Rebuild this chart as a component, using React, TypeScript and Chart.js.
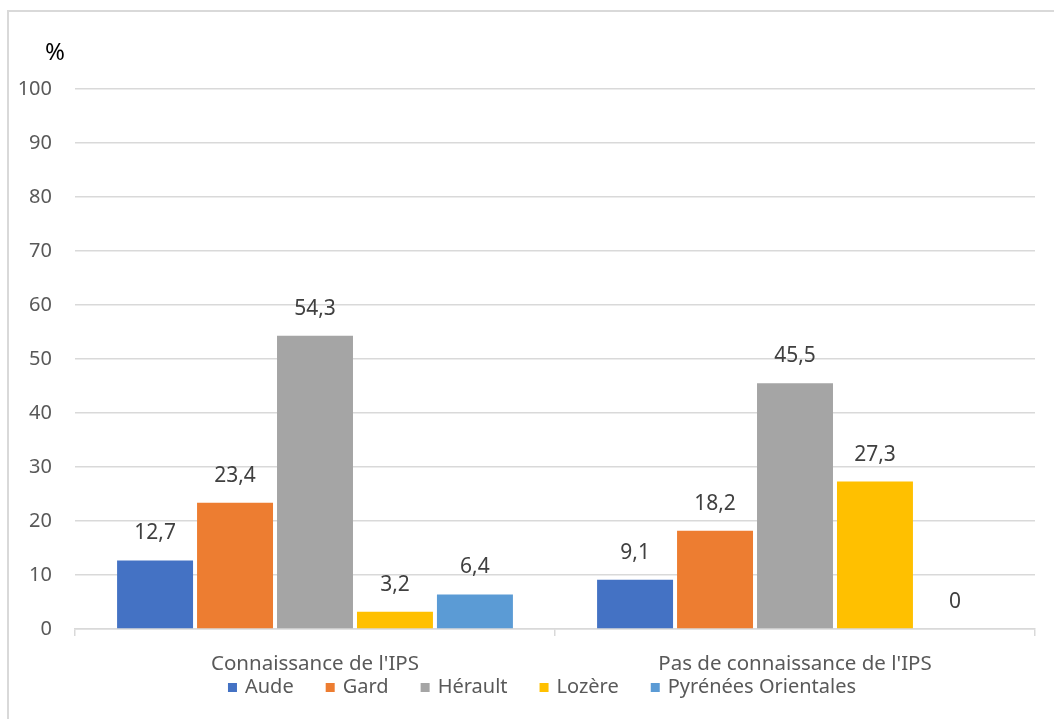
import { useEffect, useRef } from "react";
import { Chart, registerables } from "chart.js";

Chart.register(...registerables);

const categories = ["Connaissance de l'IPS", "Pas de connaissance de l'IPS"];
const seriesNames = ["Aude", "Gard", "Hérault", "Lozère", "Pyrénées Orientales"];
const aude = [12.7, 9.1];
const gard = [23.4, 18.2];
const herault = [54.3, 45.5];
const lozere = [3.2, 27.3];
const pyrenees = [6.4, 0];
const seriesColors = ["#4472C4", "#ED7D31", "#A5A5A5", "#FFC000", "#5B9BD5"];
const yMin = 0;
const yMax = 100;
const yStep = 10;
const unitLabel = "%";

const FONT = '"Noto Sans", "DejaVu Sans", sans-serif';

const framePlugin = {
  id: "frame",
  beforeDraw(chart: any) {
    const { ctx, chartArea } = chart;
    ctx.save();
    ctx.strokeStyle = "#d9d9d9";
    ctx.lineWidth = 2;
    ctx.beginPath();
    ctx.moveTo(8, chart.height);
    ctx.lineTo(8, 11);
    ctx.lineTo(chart.width, 11);
    ctx.stroke();
    ctx.fillStyle = "#000000";
    ctx.font = `24px ${FONT}`;
    ctx.textAlign = "center";
    ctx.textBaseline = "middle";
    ctx.fillText(unitLabel, chartArea.left - 20, chartArea.top - 36);
    ctx.restore();
  },
};

const valueLabelPlugin = {
  id: "valueLabels",
  afterDatasetsDraw(chart: any) {
    const { ctx } = chart;
    ctx.save();
    ctx.font = `21px ${FONT}`;
    ctx.fillStyle = "#404040";
    ctx.textAlign = "center";
    ctx.textBaseline = "middle";
    chart.data.datasets.forEach((ds: any, i: number) => {
      const meta = chart.getDatasetMeta(i);
      meta.data.forEach((el: any, j: number) => {
        const v = ds.data[j] as number;
        ctx.fillText(String(v).replace(".", ","), el.x, el.y - 27);
      });
    });
    ctx.restore();
  },
};

const legendPlugin = {
  id: "bottomLegend",
  afterDraw(chart: any) {
    const { ctx } = chart;
    const box = 9;
    const textGap = 8;
    const itemGap = 32;
    ctx.save();
    ctx.font = `20px ${FONT}`;
    const items = chart.data.datasets.map((ds: any) => ({
      label: ds.label as string,
      color: ds.backgroundColor as string,
      w: ctx.measureText(ds.label).width,
    }));
    const total =
      items.reduce((s: number, it: any) => s + box + textGap + it.w, 0) +
      itemGap * (items.length - 1);
    let x = 542 - total / 2;
    const y = 687.5;
    ctx.textBaseline = "middle";
    ctx.textAlign = "left";
    items.forEach((it: any) => {
      ctx.fillStyle = it.color;
      ctx.fillRect(x, y - box / 2, box, box);
      ctx.fillStyle = "#595959";
      ctx.fillText(it.label, x + box + textGap, y);
      x += box + textGap + it.w + itemGap;
    });
    ctx.restore();
  },
};

export default function App() {
  const canvasRef = useRef<HTMLCanvasElement | null>(null);

  useEffect(() => {
    document.body.style.margin = "0";
    document.body.style.overflow = "hidden";
    const canvas = canvasRef.current;
    if (!canvas) return;
    const seriesData = [aude, gard, herault, lozere, pyrenees];
    const chart = new Chart(canvas, {
      type: "bar",
      data: {
        labels: categories,
        datasets: seriesNames.map((name, i) => ({
          label: name,
          data: seriesData[i],
          backgroundColor: seriesColors[i],
          borderWidth: 0,
          barPercentage: 0.95,
          categoryPercentage: 0.833,
        })),
      },
      options: {
        responsive: false,
        animation: false,
        events: [],
        layout: { padding: { top: 89, left: 0, right: 19, bottom: 40 } },
        plugins: {
          legend: { display: false },
          title: { display: false },
          tooltip: { enabled: false },
        },
        scales: {
          x: {
            grid: {
              offset: true,
              drawOnChartArea: false,
              drawTicks: true,
              tickLength: 7,
              color: "#d9d9d9",
              lineWidth: 1.5,
            },
            border: { display: true, color: "#d9d9d9", width: 1.5 },
            ticks: {
              color: "#595959",
              font: { family: FONT, size: 20.5 },
              padding: 16,
            },
            afterFit: (scale: any) => {
              scale.height = 50;
            },
          },
          y: {
            min: yMin,
            max: yMax,
            ticks: {
              stepSize: yStep,
              color: "#595959",
              font: { family: FONT, size: 20 },
              padding: 23,
            },
            grid: { color: "#d9d9d9", lineWidth: 1.5, drawTicks: false },
            border: { display: false },
            afterFit: (scale: any) => {
              scale.width = 75;
            },
          },
        },
      },
      plugins: [framePlugin, valueLabelPlugin, legendPlugin],
    });
    return () => chart.destroy();
  }, []);

  return (
    <div style={{ width: 1054, height: 719 }}>
      <canvas ref={canvasRef} width={1054} height={719} />
    </div>
  );
}
